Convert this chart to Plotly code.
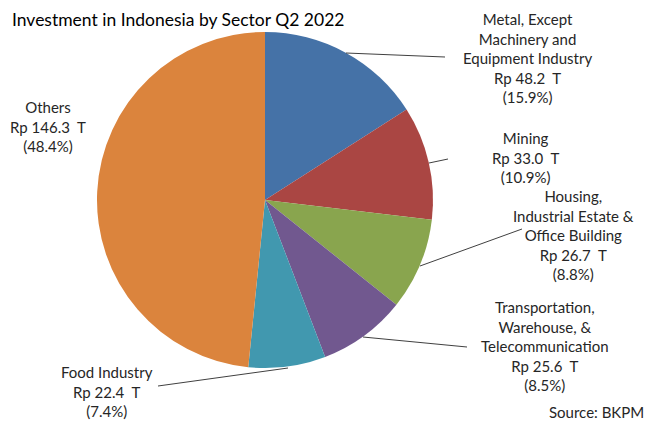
import plotly.graph_objects as go

W, H = 649, 423

sectors = ["Metal, Except<br>Machinery and<br>Equipment Industry", "Mining",
           "Housing,<br>Industrial Estate &<br>Office Building",
           "Transportation,<br>Warehouse, &<br>Telecommunication",
           "Food Industry", "Others"]
values = [48.2, 33.0, 26.7, 25.6, 22.4, 146.3]
percents = ["15.9%", "10.9%", "8.8%", "8.5%", "7.4%", "48.4%"]
colors = ["#4572A7", "#AA4643", "#89A54E", "#71588F", "#4198AF", "#DB843D"]

# label centre positions (px) and leader lines (px)
label_pos = [(527, 58), (525, 157), (573, 235), (545, 346), (107, 391), (48, 126)]
leaders = [[(346, 53), (445, 57)], [(429, 163), (448, 159)], [(420, 266), (522, 229)],
           [(363, 337), (467, 347)], [(288, 368), (158, 386)], None]

cx, cy, r = 265, 200, 168

def px(x):
    return x / W

def py(y):
    return 1 - y / H

fig = go.Figure(go.Pie(
    labels=[s.replace("<br>", " ") for s in sectors], values=values, sort=False,
    direction="clockwise", rotation=0,
    marker=dict(colors=colors, line=dict(width=0)),
    textinfo="none", hoverinfo="label+value+percent",
    domain=dict(x=[px(cx - r), px(cx + r)], y=[py(cy + r), py(cy - r)]),
    showlegend=False,
))

font = dict(family="Lato, sans-serif", size=15, color="#262626")
ann = []
for s, v, p, (lx, ly) in zip(sectors, values, percents, label_pos):
    ann.append(dict(x=px(lx), y=py(ly), xref="paper", yref="paper", showarrow=False,
                    xanchor="center", yanchor="middle", align="center",
                    text=f"{s}<br>Rp {v:.1f}\u00a0 T<br>({p})", font=font))
ann.append(dict(x=px(10), y=py(20), xref="paper", yref="paper", showarrow=False,
                xanchor="left", yanchor="middle", text="Investment in Indonesia by Sector Q2 2022",
                font=dict(family="Lato, sans-serif", size=17.5, color="#000000")))
ann.append(dict(x=px(646), y=py(412), xref="paper", yref="paper", showarrow=False,
                xanchor="right", yanchor="middle", text="Source: BKPM", font=font))

shapes = []
for ld in leaders:
    if ld is None:
        continue
    (x0, y0), (x1, y1) = ld
    shapes.append(dict(type="line", xref="paper", yref="paper", x0=px(x0), y0=py(y0),
                       x1=px(x1), y1=py(y1), line=dict(color="#404040", width=1)))

fig.update_layout(width=W, height=H, margin=dict(l=0, r=0, t=0, b=0),
                  paper_bgcolor="white", plot_bgcolor="white",
                  annotations=ann, shapes=shapes)
fig.write_html("out.html", config={"displayModeBar": False},
               post_script="document.body.style.margin='0';document.body.style.overflow='hidden';")
